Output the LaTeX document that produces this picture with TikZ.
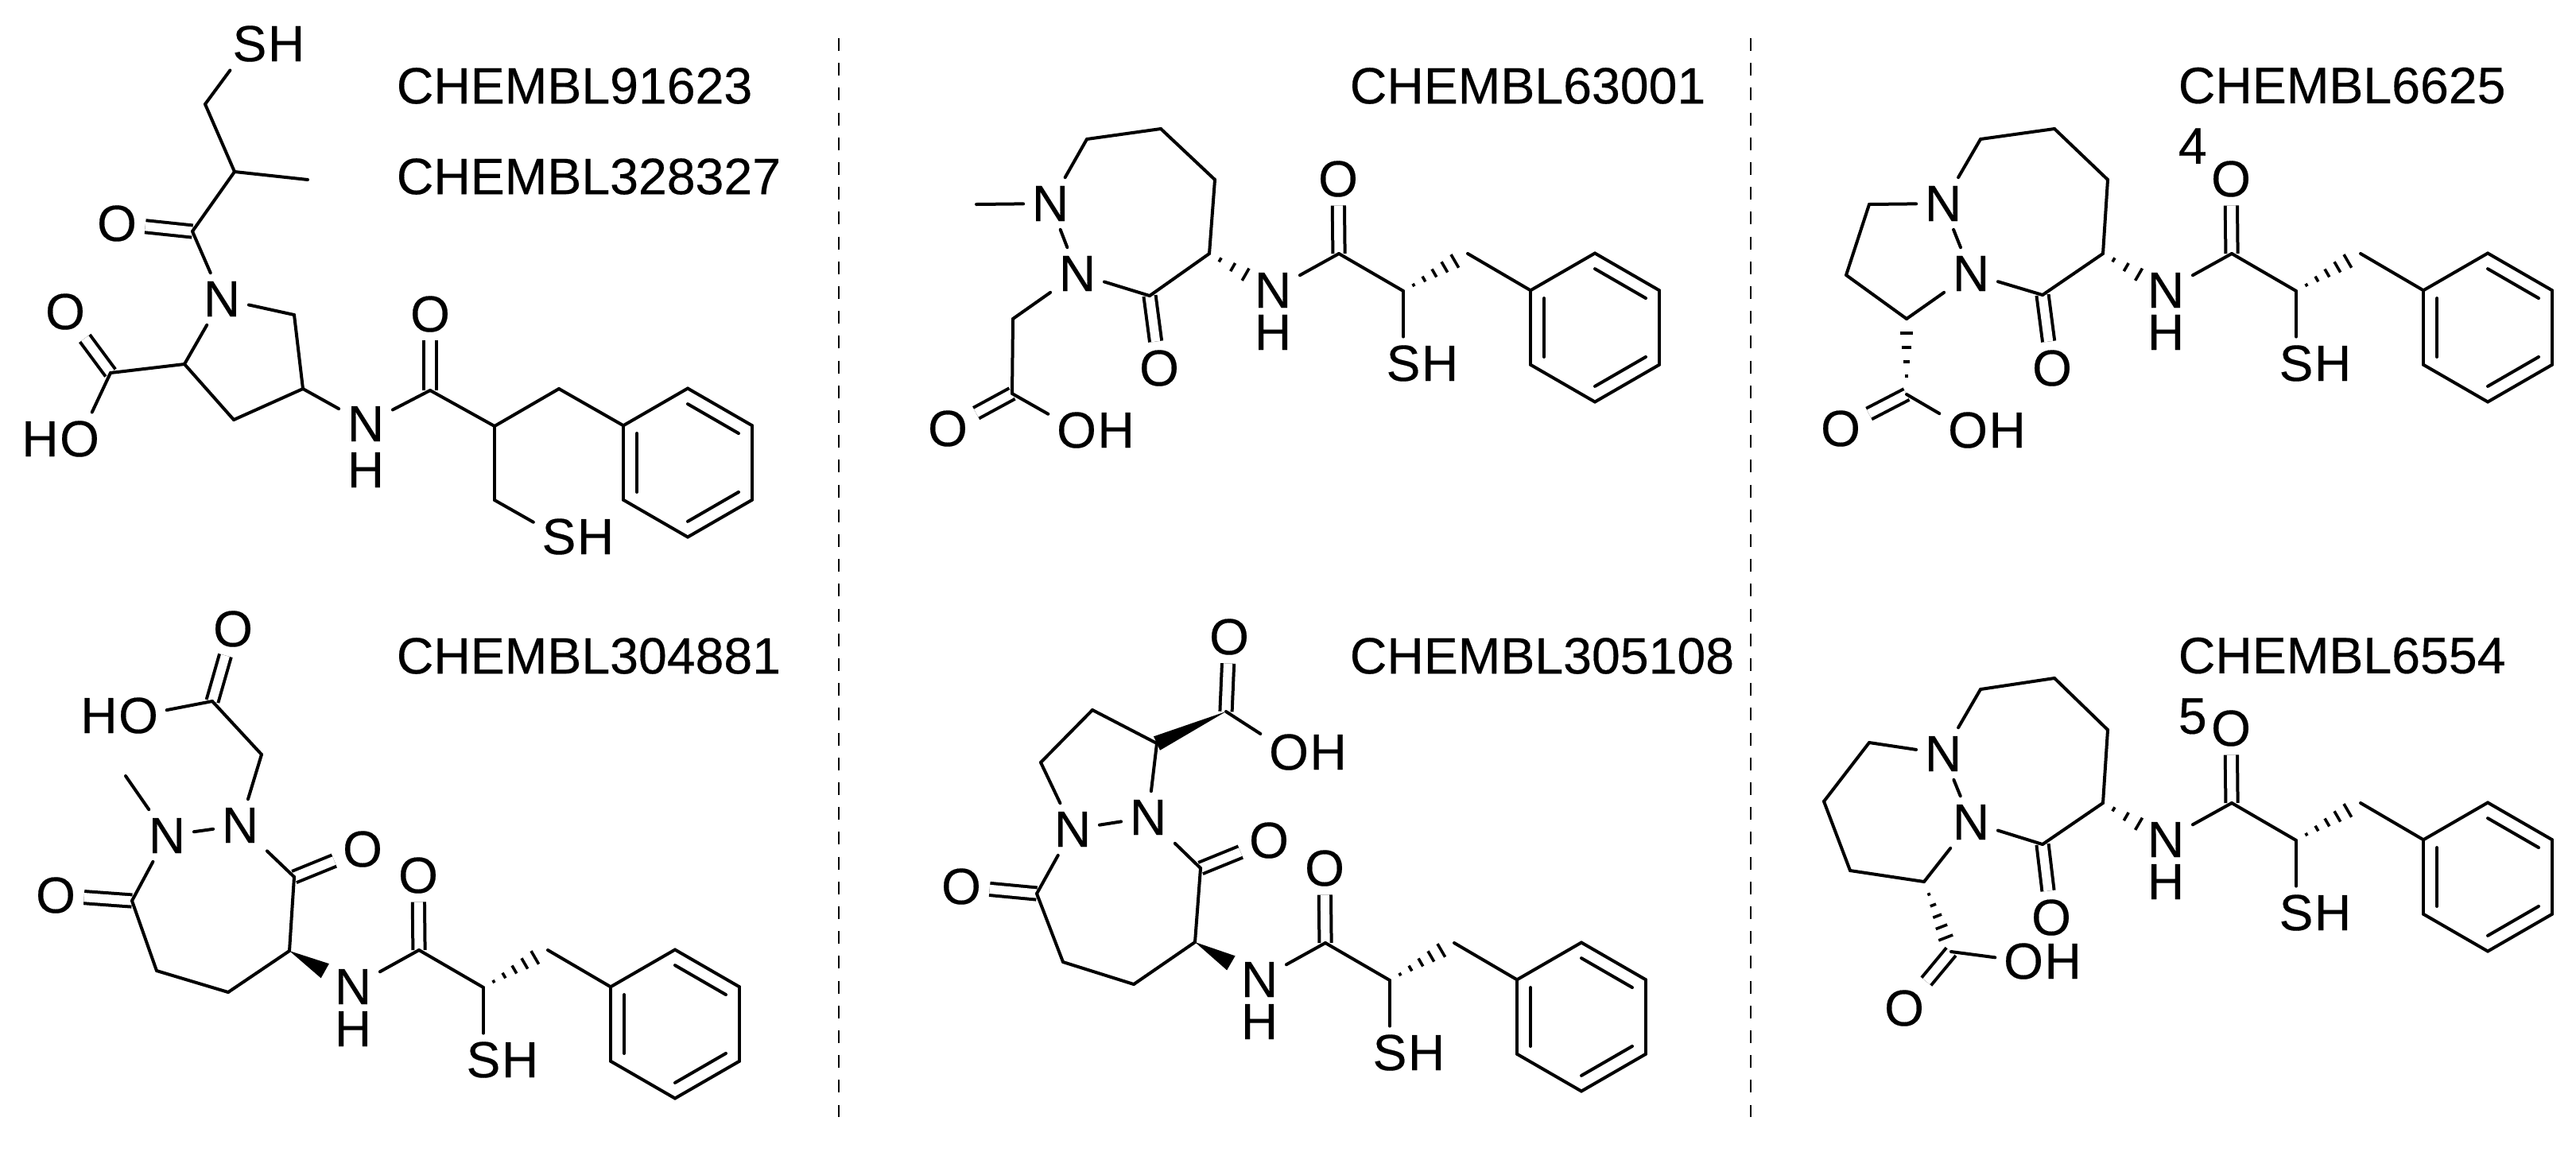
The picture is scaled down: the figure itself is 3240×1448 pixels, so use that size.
\documentclass[tikz,border=0pt]{standalone}
\usepackage{fontspec}
\setmainfont{Liberation Sans}
\newfontfamily\heavyfont[FakeBold=0.3]{Liberation Sans}
\usetikzlibrary{calc,positioning}

\tikzset{
  atom/.style={inner sep=2.5pt,font=\heavyfont\fontsize{16}{18}\selectfont},
  chembl/.style={anchor=west,inner sep=0pt,align=left,font=\heavyfont\fontsize{16.1}{19}\selectfont},
  bond/.style={line width=1pt,line cap=round},
  dbl/.style={line width=1pt,double,double distance=2.8pt},
  hashline/.style={line width=.9pt},
  sepline/.style={line width=.7pt,dash pattern=on 4pt off 3.8pt}
}

% narrow at #1, wide towards #2
\newcommand{\hashbond}[6]{%
  \foreach \i in {1,...,#5}{
    \pgfmathsetmacro{\hpos}{#3+(#4-#3)*(\i-1)/(#5-1)}
    \pgfmathsetmacro{\hwid}{#6*\i/#5}
    \draw[hashline] ($(#1)!\hpos!(#2)!\hwid pt!90:(#2)$) -- ($(#1)!\hpos!(#2)!\hwid pt!-90:(#2)$);
  }}
\newcommand{\wedgebond}[4]{%
  \fill (#1) -- ($(#1)!#3!(#2)!#4pt!90:(#1)$) -- ($(#1)!#3!(#2)!#4pt!-90:(#1)$) -- cycle;}

% benzene ring, corner 6 is the one that takes the chain
\newcommand{\phenyl}[2]{%
  \begin{scope}[shift={(#2)}]
  \foreach \i/\ang in {1/-90,2/-30,3/30,4/90,5/150,6/-150}
    \coordinate (#1\i) at (\ang:93.5);
  \end{scope}
  \foreach \i/\j in {1/2,2/3,3/4,4/5,5/6,6/1}
    \draw[bond] (#1\i) -- (#1\j);
  \foreach \i/\j in {1/2,3/4,5/6}
    \draw[bond] ($(#1\i)!.21!(#2)$) -- ($(#1\j)!.21!(#2)$);
}

% amide, thiol and benzyl part; the origin is the amide N
\newcommand{\sidechain}[2]{%
  \begin{scope}[shift={(#2)}]
  \node[atom] (#1N) at (0,0) {N};
  \node[atom] (#1Hn) at (0,53) {H};
  \coordinate (#1c) at (83,-46);
  \node[atom] (#1Oc) at (82,-140) {O};
  \coordinate (#1s) at (164,1);
  \coordinate (#1b) at (245,-46);
  \node[atom] (#1S) at (164,92) {S};
  \node[atom,right=-5pt of #1S] (#1Hs) {H};
  \coordinate (#1m) at (405,47);
  \phenyl{#1r}{#1m}
  \draw[dbl] (#1c) -- (#1Oc);
  \draw[bond] (#1N) -- (#1c);
  \draw[bond] (#1c) -- (#1s);
  \draw[bond] (#1s) -- (#1S);
  \draw[bond] (#1b) -- (#1r6);
  \hashbond{#1s}{#1b}{.16}{.8}{5}{2.4}
  \end{scope}}

\begin{document}
\begin{tikzpicture}[x=.25pt,y=-.25pt]
\useasboundingbox (0,0) rectangle (3240,1448);

% separators
\coordinate (s1t) at (1055,48);
\coordinate (s1b) at (1055,1405);
\coordinate (s2t) at (2202,48);
\coordinate (s2b) at (2202,1405);
\draw[sepline] (s1t) -- (s1b);
\draw[sepline] (s2t) -- (s2b);

% labels
\node[chembl] (la1) at (498,108) {CHEMBL91623};
\node[chembl] (la2) at (498,222) {CHEMBL328327};
\node[chembl] (lb) at (1697,108) {CHEMBL63001};
\node[chembl,anchor=north west] (lc) at (2739,84) {CHEMBL6625\\4};
\node[chembl] (ld) at (498,825) {CHEMBL304881};
\node[chembl] (le) at (1697,825) {CHEMBL305108};
\node[chembl,anchor=north west] (lf) at (2739,801) {CHEMBL6554\\5};

% top left
\foreach \i/\px/\py in {1/258/131,2/295/216,3/387/226,4/242/291,5/370/396,6/381/489,7/294/528,8/232/458,9/139/469,10/541/491,11/622/536,12/703/489,14/622/629}
  \coordinate (a\i) at (\px,\py);
\foreach \i/\el/\px/\py in {N1/N/279/376,N2/N/460/533,O1/O/147/281,O2/O/82/392,O3/O/100/552,O4/O/541/395,S1/S/314/55,S2/S/703/675}
  \node[atom] (a\i) at (\px,\py) {\el};
\node[atom,left=-5pt of aO3] (aH1) {H};
\node[atom] (aH2) at (460,591) {H};
\node[atom,right=-5pt of aS1] (aH3) {H};
\node[atom,right=-5pt of aS2] (aH4) {H};
\coordinate (am) at (865,582);
\phenyl{ar}{am}
\foreach \u/\v in {a4/aO1,a9/aO2,a10/aO4}
  \draw[dbl] (\u) -- (\v);
\foreach \u/\v in {aS1/a1,a1/a2,a2/a3,a2/a4,a4/aN1,aN1/a5,a5/a6,a6/a7,a7/a8,a8/aN1,a8/a9,a9/aO3,a6/aN2,aN2/a10,a10/a11,a11/a12,a12/ar6,a11/a14,a14/aS2}
  \draw[bond] (\u) -- (\v);

% top middle
\foreach \i/\px/\py in {1/1228/257,2/1367/175,3/1460/162,4/1528/226,5/1521/319,6/1446/372,7/1274/401,8/1273/495}
  \coordinate (b\i) at (\px,\py);
\foreach \i/\el/\px/\py in {N1/N/1321/256,N2/N/1355/344,O1/O/1458/463,O2/O/1192/539,O3/O/1354/541}
  \node[atom] (b\i) at (\px,\py) {\el};
\node[atom,right=-5pt of bO3] (bH1) {H};
\sidechain{bx}{1601,365}
\foreach \u/\v in {b6/bO1,b8/bO2}
  \draw[dbl] (\u) -- (\v);
\foreach \u/\v in {b1/bN1,bN1/b2,b2/b3,b3/b4,b4/b5,b5/b6,b6/bN2,bN2/bN1,bN2/b7,b7/b8,b8/bO3}
  \draw[bond] (\u) -- (\v);
\hashbond{b5}{bxN}{.17}{.57}{3}{2.2}

% top right
\foreach \i/\px/\py in {1/2351/257,2/2322/346,3/2398/401,4/2491/175,5/2584/162,6/2651/226,7/2645/319,8/2569/371,9/2398/496}
  \coordinate (c\i) at (\px,\py);
\foreach \i/\el/\px/\py in {N1/N/2444/256,N2/N/2479/344,O1/O/2581/463,O2/O/2315/539,O3/O/2475/541}
  \node[atom] (c\i) at (\px,\py) {\el};
\node[atom,right=-5pt of cO3] (cH1) {H};
\sidechain{cx}{2724,365}
\foreach \u/\v in {c8/cO1,c9/cO2}
  \draw[dbl] (\u) -- (\v);
\foreach \u/\v in {cN1/c1,c1/c2,c2/c3,c3/cN2,cN1/c4,c4/c5,c5/c6,c6/c7,c7/c8,c8/cN2,cN2/cN1,c9/cO3}
  \draw[bond] (\u) -- (\v);
\hashbond{c7}{cxN}{.17}{.57}{3}{2.2}
\hashbond{c9}{c3}{.24}{.81}{4}{2.1}

% bottom left
\foreach \i/\px/\py in {1/158/976,2/329/949,3/267/882,4/370/1103,5/166/1133,6/197/1221,7/287/1248,8/364/1196}
  \coordinate (d\i) at (\px,\py);
\foreach \i/\el/\px/\py in {N1/N/210/1051,N2/N/302/1038,O1/O/293/791,O2/O/174/900,O3/O/456/1068,O4/O/70/1126}
  \node[atom] (d\i) at (\px,\py) {\el};
\node[atom,left=-5pt of dO2] (dH1) {H};
\sidechain{dx}{444,1241}
\foreach \u/\v in {d3/dO1,d4/dO3,d5/dO4}
  \draw[dbl] (\u) -- (\v);
\foreach \u/\v in {d1/dN1,dN1/dN2,dN2/d2,d2/d3,d3/dO2,dN2/d4,d4/d8,d8/d7,d7/d6,d6/d5,d5/dN1}
  \draw[bond] (\u) -- (\v);
\wedgebond{d8}{dxN}{.56}{2.6}

% bottom middle
\foreach \i/\px/\py in {1/1542/895,2/1455/935,3/1374/893,4/1309/959,5/1510/1092,6/1304/1124,7/1337/1210,8/1426/1238,9/1503/1185}
  \coordinate (e\i) at (\px,\py);
\foreach \i/\el/\px/\py in {N1/N/1349/1043,N2/N/1444/1028,O1/O/1546/801,O2/O/1621/946,O3/O/1596/1057,O4/O/1209/1115}
  \node[atom] (e\i) at (\px,\py) {\el};
\node[atom,right=-5pt of eO2] (eH1) {H};
\sidechain{ex}{1584,1232}
\foreach \u/\v in {e1/eO1,e5/eO3,e6/eO4}
  \draw[dbl] (\u) -- (\v);
\foreach \u/\v in {e1/eO2,e2/e3,e3/e4,e4/eN1,eN1/eN2,eN2/e2,eN2/e5,e5/e9,e9/e8,e8/e7,e7/e6,e6/eN1}
  \draw[bond] (\u) -- (\v);
\wedgebond{e1}{e2}{1}{2.4}
\wedgebond{e9}{exN}{.56}{2.6}

% bottom right
\foreach \i/\px/\py in {1/2351/934,2/2294/1008,3/2327/1095,4/2420/1109,5/2491/867,6/2584/853,7/2651/918,8/2645/1010,9/2569/1062,10/2454/1197}
  \coordinate (f\i) at (\px,\py);
\foreach \i/\el/\px/\py in {N1/N/2444/948,N2/N/2479/1034,O1/O/2580/1154,O2/O/2395/1268,O3/O/2545/1209}
  \node[atom] (f\i) at (\px,\py) {\el};
\node[atom,right=-5pt of fO3] (fH1) {H};
\sidechain{fx}{2724,1056}
\foreach \u/\v in {f9/fO1,f10/fO2}
  \draw[dbl] (\u) -- (\v);
\foreach \u/\v in {fN1/f1,f1/f2,f2/f3,f3/f4,f4/fN2,fN2/fN1,fN1/f5,f5/f6,f6/f7,f7/f8,f8/f9,f9/fN2,f10/fO3}
  \draw[bond] (\u) -- (\v);
\hashbond{f8}{fxN}{.17}{.57}{3}{2.2}
\hashbond{f4}{f10}{.18}{.8}{5}{2.4}

\end{tikzpicture}
\end{document}
